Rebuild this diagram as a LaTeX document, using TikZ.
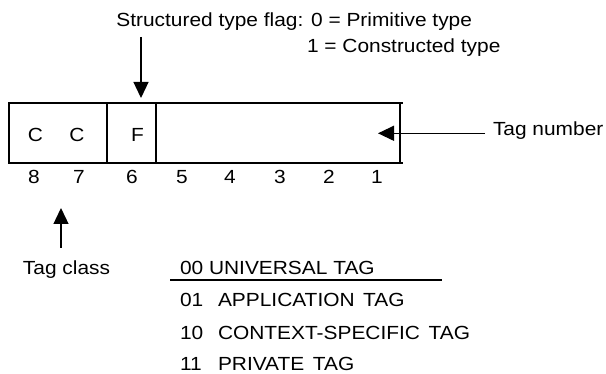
\documentclass[tikz,border=0pt]{standalone}
\usepackage{fontspec}
\setmainfont{Liberation Sans}[FakeStretch=1.1]
\usetikzlibrary{arrows.meta}
\begin{document}
\begin{tikzpicture}[x=1pt,y=-1pt,
  font=\fontsize{19}{22}\selectfont,
  txt/.style={inner sep=0pt, outer sep=0pt},
  arr/.style={line width=1.3pt, -{Triangle[length=16pt,width=15pt]}},
  boxline/.style={line width=1.8pt}]
\useasboundingbox (0,0) rectangle (606,374);
% register box
\node[txt, minimum width=391pt, minimum height=60pt, anchor=north west] (reg) at (9,103.3) {};
\draw[boxline] (8,103.3) -- (403,103.3);
\draw[boxline] (8,163.3) -- (403,163.3);
\draw[boxline] (9,103.3) -- (9,163.3);
\draw[boxline] (107.3,103.3) -- (107.3,163.3);
\draw[boxline] (156,103.3) -- (156,163.3);
\draw[boxline] (400,103.3) -- (400,163.3);
% cell letters
\node[txt, anchor=base] (c1) at (35.5,141.5) {C};
\node[txt, anchor=base] (c2) at (77,141.5) {C};
\node[txt, anchor=base] (f) at (137.5,141.5) {F};
% bit numbers
\node[txt, anchor=base] (b8) at (34,184) {8};
\node[txt, anchor=base] (b7) at (79,184) {7};
\node[txt, anchor=base] (b6) at (132,184) {6};
\node[txt, anchor=base] (b5) at (182,184) {5};
\node[txt, anchor=base] (b4) at (230,184) {4};
\node[txt, anchor=base] (b3) at (280,184) {3};
\node[txt, anchor=base] (b2) at (329,184) {2};
\node[txt, anchor=base] (b1) at (377,184) {1};
% title
\node[txt, anchor=base east] (t1) at (472,27) {Structured type flag: 0 = Primitive type};
\node[txt, anchor=base west] (t2) at (307,53) {1 = Constructed type};
\coordinate (flagstart) at (141,37);
\coordinate (flagtip) at (141,98);
\draw[arr] (flagstart) -- (flagtip);
% tag number
\node[txt, anchor=base west] (tn) at (493,136) {Tag number};
\coordinate (tnstart) at (485,133.3);
\coordinate (tntip) at (378,133.3);
\draw[arr] (tnstart) -- (tntip);
% tag class
\node[txt, anchor=base west] (tc) at (23,275) {Tag class};
\coordinate (tcstart) at (61,248);
\coordinate (tctip) at (61,208);
\draw[arr] (tcstart) -- (tctip);
% list
\node[txt, anchor=base west] (l0) at (180,275) {00 UNIVERSAL TAG};
\draw[boxline] (170,280) -- (442,280);
\node[txt, anchor=base west] (d1) at (180,307) {01};
\node[txt, anchor=base west] (w1) at (218,307) {APPLICATION\hspace{0.45em}TAG};
\node[txt, anchor=base west] (d2) at (180,339.5) {10};
\node[txt, anchor=base west] (w2) at (218,339.5) {CONTEXT-SPECIFIC\hspace{0.45em}TAG};
\node[txt, anchor=base west] (d3) at (180,370.5) {11};
\node[txt, anchor=base west] (w3) at (218,370.5) {PRIVATE\hspace{0.45em}TAG};
\end{tikzpicture}
\end{document}
